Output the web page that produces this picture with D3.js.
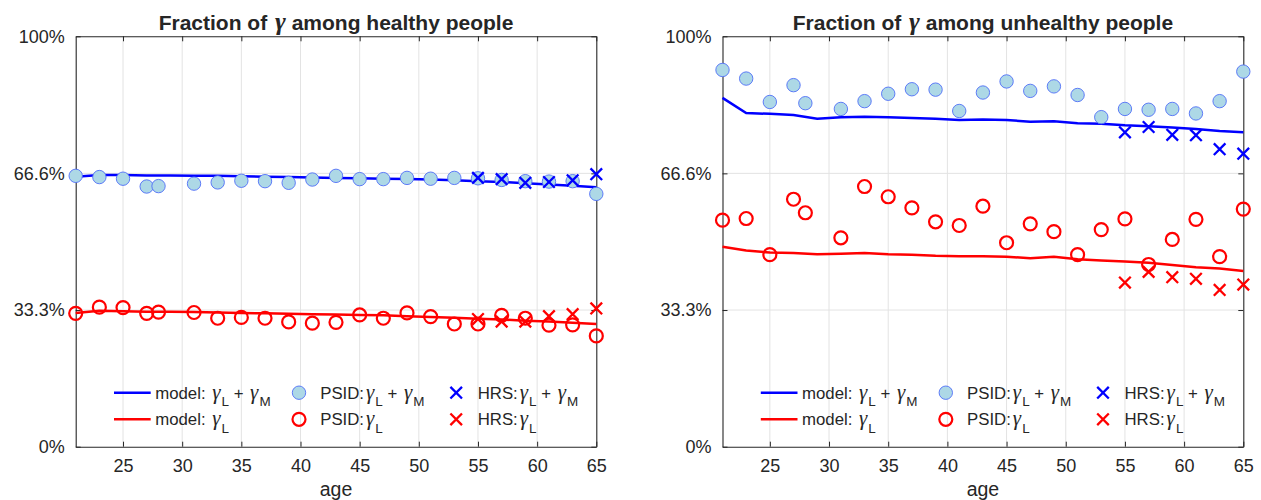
<!DOCTYPE html>
<html>
<head>
<meta charset="utf-8">
<script src="https://cdn.jsdelivr.net/npm/d3@7"></script>
<style>
body { margin: 0; background: #fff; }
svg text { font-family: 'Liberation Sans', Arial, sans-serif; fill: #262626; }
</style>
</head>
<body>
<div id="chart"></div>
<script>
// ages
const ageModel = [21, 23, 25, 27, 29, 31, 33, 35, 37, 39, 41, 43, 45, 47, 49, 51, 53, 55, 57, 59, 61, 63, 65]
const agePSID = [21, 23, 25, 27, 28, 31, 33, 35, 37, 39, 41, 43, 45, 47, 49, 51, 53, 55, 57, 59, 61, 63, 65]
const ageHRS = [55, 57, 59, 61, 63, 65]

// healthy panel (percent)
const healthyModelLM = [65.8, 66.2, 66.2, 66.1, 66.1, 66.0, 66.0, 65.9, 65.8, 65.7, 65.6, 65.5, 65.4, 65.3, 65.2, 65.1, 64.9, 64.7, 64.5, 64.2, 63.9, 63.6, 63.2]
const healthyModelL = [32.6, 33.1, 33.0, 32.9, 32.9, 32.8, 32.7, 32.6, 32.5, 32.4, 32.3, 32.2, 32.1, 32.0, 31.8, 31.6, 31.4, 31.2, 31.0, 30.7, 30.5, 30.2, 29.9]
const healthyPsidLM = [66.0, 65.7, 65.3, 63.4, 63.5, 64.1, 64.4, 64.8, 64.7, 64.3, 65.1, 66.0, 65.2, 65.2, 65.5, 65.3, 65.5, 65.4, 65.0, 64.7, 64.6, 64.7, 61.6]
const healthyPsidL = [32.5, 34.0, 33.9, 32.5, 32.8, 32.7, 31.3, 31.5, 31.3, 30.4, 30.1, 30.3, 32.1, 31.3, 32.6, 31.7, 29.9, 29.9, 32.0, 31.3, 29.6, 29.7, 27.0]
const healthyHrsLM = [65.5, 65.2, 64.3, 64.5, 64.9, 66.4]
const healthyHrsL = [31.1, 30.5, 30.5, 31.8, 32.3, 33.7]

// unhealthy panel (percent)
const unhealthyModelLM = [85.0, 81.3, 81.1, 80.8, 79.9, 80.3, 80.4, 80.3, 80.1, 79.9, 79.6, 79.7, 79.6, 79.2, 79.3, 78.8, 78.7, 78.3, 78.1, 77.8, 77.4, 76.9, 76.6]
const unhealthyModelL = [48.7, 47.8, 47.3, 47.2, 46.9, 47.0, 47.2, 46.9, 46.8, 46.5, 46.4, 46.4, 46.3, 45.9, 46.3, 45.7, 45.4, 45.1, 44.8, 44.3, 43.7, 43.4, 42.8]
const unhealthyPsidLM = [91.8, 89.7, 84.0, 88.1, 83.7, 82.3, 84.2, 86.0, 87.1, 87.0, 81.8, 86.3, 89.0, 86.7, 87.8, 85.7, 80.3, 82.3, 82.1, 82.3, 81.2, 84.2, 91.4]
const unhealthyPsidL = [55.2, 55.6, 46.8, 60.3, 57.0, 50.9, 63.4, 60.9, 58.2, 54.8, 53.9, 58.6, 49.7, 54.3, 52.4, 46.8, 52.9, 55.5, 44.4, 50.5, 55.4, 46.3, 57.9]
const unhealthyHrsLM = [76.6, 77.9, 76.0, 75.9, 72.5, 71.4]
const unhealthyHrsL = [40.0, 42.6, 41.3, 40.9, 38.2, 39.5]

// ticks
const xTicks = [25, 30, 35, 40, 45, 50, 55, 60, 65]
const yTicks = [0, 33.3, 66.6, 100]
const yTickLabels = ['0%', '33.3%', '66.6%', '100%']

const titles = ['healthy', 'unhealthy']

const dim = { width: 1261, height: 500, top: 36.3, bottom: 446.7 }
const panelX = [[75.7, 596.3], [722.5, 1243.3]]
const axisColor = '#262626'
const gridColor = '#e3e3e3'

const svg = d3.select('#chart').append('svg')
    .attr('width', dim.width).attr('height', dim.height)
svg.append('rect').attr('width', dim.width).attr('height', dim.height).attr('fill', '#fff')

const panels = [
    { modelLM: healthyModelLM, modelL: healthyModelL, psidLM: healthyPsidLM, psidL: healthyPsidL, hrsLM: healthyHrsLM, hrsL: healthyHrsL },
    { modelLM: unhealthyModelLM, modelL: unhealthyModelL, psidLM: unhealthyPsidLM, psidL: unhealthyPsidL, hrsLM: unhealthyHrsLM, hrsL: unhealthyHrsL }
]

// text with gamma + subscripts
function richText(sel, parts, size, gSize, gap) {
    parts.forEach(p => {
        const t = sel.append('tspan').text(p[0])
        if (p[1] == 'g') t.style('font-family', "'Liberation Serif', serif").style('font-style', 'italic')
            .style('font-size', gSize + 'px').attr('dx', gap)
        if (p[1] == 'sub') t.attr('dy', 7.5).attr('dx', gap / 2).style('font-size', (size * 0.8) + 'px')
        if (p[1] == 'up') t.attr('dy', -7.5)
    })
}

function xMark(g, cx, cy, r, color) {
    g.append('path')
        .attr('d', `M${cx - r},${cy - r}L${cx + r},${cy + r}M${cx - r},${cy + r}L${cx + r},${cy - r}`)
        .attr('stroke', color).attr('stroke-width', 2.3).attr('fill', 'none')
}

panels.forEach((p, k) => {
    const x = d3.scaleLinear().domain([21, 65]).range(panelX[k])
    const y = d3.scaleLinear().domain([0, 100]).range([dim.bottom, dim.top])
    const g = svg.append('g')

    // grid
    g.selectAll('.vgrid').data(xTicks.slice(0, -1)).join('line')
        .attr('x1', d => x(d)).attr('x2', d => x(d))
        .attr('y1', dim.top).attr('y2', dim.bottom)
        .attr('stroke', gridColor).attr('stroke-width', 1)
    g.selectAll('.hgrid').data(yTicks.slice(1, -1)).join('line')
        .attr('x1', panelX[k][0]).attr('x2', panelX[k][1])
        .attr('y1', d => y(d)).attr('y2', d => y(d))
        .attr('stroke', gridColor).attr('stroke-width', 1)

    // axes
    const bottomAxis = g.append('g').attr('transform', `translate(0,${dim.bottom})`)
        .call(d3.axisBottom(x).tickValues(xTicks).tickSizeInner(-5).tickSizeOuter(0).tickPadding(12.5))
    const topAxis = g.append('g').attr('transform', `translate(0,${dim.top})`)
        .call(d3.axisTop(x).tickValues(xTicks).tickSizeInner(-5).tickSizeOuter(0).tickFormat(''))
    const leftAxis = g.append('g').attr('transform', `translate(${panelX[k][0]},0)`)
        .call(d3.axisLeft(y).tickValues(yTicks).tickSizeInner(-5).tickSizeOuter(0).tickPadding(11)
            .tickFormat((d, i) => yTickLabels[i]))
    const rightAxis = g.append('g').attr('transform', `translate(${panelX[k][1]},0)`)
        .call(d3.axisRight(y).tickValues(yTicks).tickSizeInner(-5).tickSizeOuter(0).tickFormat(''))
    ;[bottomAxis, topAxis, leftAxis, rightAxis].forEach(a => {
        a.select('.domain').attr('stroke', axisColor).attr('stroke-width', 1.1)
        a.selectAll('.tick line').attr('stroke', axisColor)
        a.selectAll('.tick text').attr('fill', axisColor)
            .style('font-size', '18px').style('font-family', "'Liberation Sans', Arial, sans-serif")
    })

    // model lines
    const line = d3.line().x((d, i) => x(ageModel[i])).y(d => y(d))
    g.append('path').datum(p.modelLM).attr('d', line)
        .attr('fill', 'none').attr('stroke', '#0000ff').attr('stroke-width', 2.5)
    g.append('path').datum(p.modelL).attr('d', line)
        .attr('fill', 'none').attr('stroke', '#ff0000').attr('stroke-width', 2.5)

    // PSID
    g.selectAll('.psidLM').data(p.psidLM).join('circle')
        .attr('cx', (d, i) => x(agePSID[i])).attr('cy', d => y(d)).attr('r', 6.7)
        .attr('fill', '#add8e6').attr('stroke', '#4f6ef7').attr('stroke-width', 0.9)
    g.selectAll('.psidL').data(p.psidL).join('circle')
        .attr('cx', (d, i) => x(agePSID[i])).attr('cy', d => y(d)).attr('r', 6.5)
        .attr('fill', 'none').attr('stroke', '#ff0000').attr('stroke-width', 2.2)

    // HRS
    p.hrsLM.forEach((d, i) => xMark(g, x(ageHRS[i]), y(d), 5.8, '#0000ff'))
    p.hrsL.forEach((d, i) => xMark(g, x(ageHRS[i]), y(d), 5.8, '#ff0000'))

    // title
    const mid = (panelX[k][0] + panelX[k][1]) / 2
    const title = g.append('text').attr('x', mid).attr('y', 30)
        .attr('text-anchor', 'middle').style('font-size', '21px').style('font-weight', 'bold').attr('fill', '#000')
    richText(title, [['Fraction of '], ['γ', 'g'], [' among ' + titles[k] + ' people']], 21, 26, 2)

    // x label
    g.append('text').attr('x', mid).attr('y', 496).attr('text-anchor', 'middle')
        .style('font-size', '19.5px').text('age')

    // legend
    const lx = panelX[k][0]
    const rows = [392.7, 419.3]
    const fs = 16.8
    const gs = 21
    const legend = g.append('g').style('font-size', fs + 'px')
    const entries = [
        { col: 0, row: 0, kind: 'line', color: '#0000ff', parts: [['model: '], ['γ', 'g'], ['L', 'sub'], [' + ', 'up'], ['γ', 'g'], ['M', 'sub']] },
        { col: 0, row: 1, kind: 'line', color: '#ff0000', parts: [['model: '], ['γ', 'g'], ['L', 'sub']] },
        { col: 1, row: 0, kind: 'dot', parts: [['PSID:'], ['γ', 'g'], ['L', 'sub'], [' + ', 'up'], ['γ', 'g'], ['M', 'sub']] },
        { col: 1, row: 1, kind: 'ring', parts: [['PSID:'], ['γ', 'g'], ['L', 'sub']] },
        { col: 2, row: 0, kind: 'x', color: '#0000ff', parts: [['HRS:'], ['γ', 'g'], ['L', 'sub'], [' + ', 'up'], ['γ', 'g'], ['M', 'sub']] },
        { col: 2, row: 1, kind: 'x', color: '#ff0000', parts: [['HRS:'], ['γ', 'g'], ['L', 'sub']] }
    ]
    const markX = [lx + 56.8, lx + 223.3, lx + 380.5]
    const textX = [lx + 79.5, lx + 244.5, lx + 402]
    entries.forEach(e => {
        const cy = rows[e.row]
        if (e.kind == 'line') legend.append('line')
            .attr('x1', lx + 38.3).attr('x2', lx + 75).attr('y1', cy).attr('y2', cy)
            .attr('stroke', e.color).attr('stroke-width', 2.5)
        if (e.kind == 'dot') legend.append('circle').attr('cx', markX[1]).attr('cy', cy).attr('r', 6.7)
            .attr('fill', '#add8e6').attr('stroke', '#4f6ef7').attr('stroke-width', 0.9)
        if (e.kind == 'ring') legend.append('circle').attr('cx', markX[1]).attr('cy', cy).attr('r', 6.5)
            .attr('fill', 'none').attr('stroke', '#ff0000').attr('stroke-width', 2.2)
        if (e.kind == 'x') xMark(legend, markX[2], cy, 5.8, e.color)
        const t = legend.append('text').attr('x', textX[e.col]).attr('y', cy + 6).attr('fill', '#000')
        richText(t, e.parts, fs, gs, 2)
    })
})
</script>
</body>
</html>
